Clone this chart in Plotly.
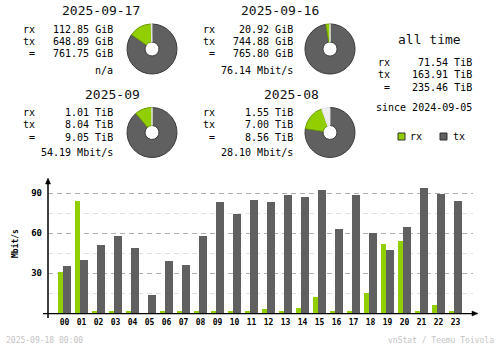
import plotly.graph_objects as go

# ---- summary data -------------------------------------------------------
periods = ["2025-09-17", "2025-09-16", "2025-09", "2025-08"]
period_rx = [112.85, 20.92, 1.01, 1.55]
period_tx = [648.89, 744.88, 8.04, 7.00]
period_total = [761.75, 765.80, 9.05, 8.56]
period_unit = ["GiB", "GiB", "TiB", "TiB"]
period_rate = ["n/a", "76.14 Mbit/s", "54.19 Mbit/s", "28.10 Mbit/s"]

alltime_rx = 71.54
alltime_tx = 163.91
alltime_total = 235.46
alltime_unit = "TiB"
since_date = "2024-09-05"

# ---- hourly data (Mbit/s) -----------------------------------------------
hours = list(range(24))
hour_labels = [f"{h:02d}" for h in hours]
rx_hour = [31.0, 83.7, 1.0, 1.0, 1.0, 0.0, 1.0, 1.0, 1.0, 1.8, 1.8, 1.8,
           2.7, 1.8, 3.5, 11.7, 1.8, 1.8, 14.7, 51.5, 53.7, 1.8, 5.7, 1.8]
tx_hour = [35.0, 40.0, 50.7, 57.5, 48.5, 13.2, 38.7, 35.7, 57.5, 83.0, 74.0, 84.5,
           83.0, 88.2, 86.7, 92.0, 62.7, 88.2, 59.7, 47.0, 64.2, 93.5, 89.0, 83.7]
y_ticks = [30, 60, 90]

footer_left = "2025-09-18 00:00"
footer_right = "vnStat / Teemu Toivola"

# ---- style ----------------------------------------------------------------
W, H = 500, 348
RX = "#92CF00"
TX = "#606060"
EMPTY = "#EDEDED"
MONO = "DejaVu Sans Mono"


def px(x):
    return x / W


def py(y):
    return 1 - y / H


fig = go.Figure()

# ---- hourly bar chart -------------------------------------------------------
PLOT_X0, PLOT_X1 = 48, 473      # plot area in pixels
PLOT_Y0, PLOT_Y1 = 181, 313
STEP = 17.0                     # pixels per hour
CENTER0 = 64.5                  # pixel centre of hour 00
xr = [(PLOT_X0 - CENTER0) / STEP, (PLOT_X1 - CENTER0) / STEP]
yr = [0, (PLOT_Y1 - PLOT_Y0) * 30 / 40]

fig.add_trace(go.Bar(x=hours, y=rx_hour, offset=-6.5 / STEP, width=5 / STEP,
                     marker=dict(color=RX, line=dict(width=0)),
                     hoverinfo="skip", showlegend=False))
fig.add_trace(go.Bar(x=hours, y=tx_hour, offset=-1.5 / STEP, width=8 / STEP,
                     marker=dict(color=TX, line=dict(width=0)),
                     hoverinfo="skip", showlegend=False))

# ---- donut charts: tx clockwise from 12 o'clock, then rx, then unused share --
pie_centres = [(152, 49), (330, 49), (152, 132.5), (330, 132.5)]
R = 25
scale_max = [max(period_total[0], period_total[1])] * 2 + \
            [max(period_total[2], period_total[3])] * 2
for i, (cx, cy) in enumerate(pie_centres):
    empty = max(scale_max[i] - period_total[i], 0)
    fig.add_trace(go.Pie(
        values=[period_tx[i], period_rx[i], empty],
        labels=["tx", "rx", ""],
        sort=False, direction="clockwise", rotation=0,
        hole=0.28,
        marker=dict(colors=[TX, RX, EMPTY],
                    line=dict(color=["#3A3A3A", "#6E9B00", "#E4E4E4"], width=1)),
        textinfo="none", hoverinfo="skip", showlegend=False,
        domain=dict(x=[px(cx - R), px(cx + R)], y=[py(cy + R), py(cy - R)]),
    ))

# ---- text blocks ---------------------------------------------------------
ann = []


def text(x, y, s, anchor="left", size=10, color="#000000", bold=False, angle=0):
    ann.append(dict(x=px(x), y=py(y), xref="paper", yref="paper", text=s,
                    showarrow=False, xanchor=anchor, yanchor="middle",
                    textangle=angle,
                    font=dict(family=MONO, size=size, color=color,
                              weight="bold" if bold else "normal")))


blocks = [
    dict(title_right=142, lab_right=37, val_right=115, title_y=10.5, rows=[29, 41, 54, 70]),
    dict(title_right=321, lab_right=217, val_right=295, title_y=10.5, rows=[29, 41, 54, 70]),
    dict(title_right=142, lab_right=37, val_right=115, title_y=94, rows=[112.5, 124.5, 137.5, 152.5]),
    dict(title_right=321, lab_right=217, val_right=295, title_y=94, rows=[112.5, 124.5, 137.5, 152.5]),
]
for i, b in enumerate(blocks):
    u = period_unit[i]
    text(b["title_right"], b["title_y"], periods[i], anchor="right", size=13, color="#111111")
    r = b["rows"]
    text(b["lab_right"], r[0], "rx", anchor="right")
    text(b["lab_right"], r[1], "tx", anchor="right")
    text(b["lab_right"], r[2], "=", anchor="right")
    text(b["val_right"], r[0], f"{period_rx[i]:.2f} {u}", anchor="right")
    text(b["val_right"], r[1], f"{period_tx[i]:.2f} {u}", anchor="right")
    text(b["val_right"], r[2], f"{period_total[i]:.2f} {u}", anchor="right")
    text(b["val_right"], r[3], period_rate[i], anchor="right")

# all time block
text(429, 40, "all time", anchor="center", size=13, color="#111111")
text(392, 62.5, "rx", anchor="right")
text(392, 75, "tx", anchor="right")
text(392, 87.5, "=", anchor="right")
text(474, 62.5, f"{alltime_rx:.2f} {alltime_unit}", anchor="right")
text(474, 75, f"{alltime_tx:.2f} {alltime_unit}", anchor="right")
text(474, 87.5, f"{alltime_total:.2f} {alltime_unit}", anchor="right")
text(474, 107.5, f"since {since_date}", anchor="right")

# legend
text(408, 136.5, "rx")
text(451, 136.5, "tx")

# axis title and footer
text(15, 244, "Mbit/s", anchor="center", size=8, bold=True, angle=-90)
text(4, 340, footer_left, size=8, color="#C4C4C4")
text(496, 340, footer_right, anchor="right", size=8, color="#C4C4C4")

# ---- shapes: legend squares, axis lines and arrows -----------------------
shapes = []
for x0, col in [(398, RX), (440, TX)]:
    shapes.append(dict(type="rect", xref="paper", yref="paper",
                       x0=px(x0), x1=px(x0 + 7), y0=py(140), y1=py(133),
                       fillcolor=col, line=dict(color="#303030", width=1)))
shapes.append(dict(type="line", xref="paper", yref="paper",
                   x0=px(43), x1=px(474), y0=py(313.6), y1=py(313.6),
                   line=dict(color="#000000", width=1.2)))
shapes.append(dict(type="line", xref="paper", yref="paper",
                   x0=px(48), x1=px(48), y0=py(318), y1=py(182),
                   line=dict(color="#000000", width=1.5)))
shapes.append(dict(type="path", xref="paper", yref="paper",
                   path=f"M {px(45.5)} {py(184)} L {px(50.5)} {py(184)} L {px(48)} {py(178)} Z",
                   fillcolor="#000000", line=dict(color="#000000", width=0.5)))
shapes.append(dict(type="path", xref="paper", yref="paper",
                   path=f"M {px(472)} {py(311)} L {px(472)} {py(316)} L {px(478)} {py(313.5)} Z",
                   fillcolor="#000000", line=dict(color="#000000", width=0.5)))

fig.update_layout(
    width=W, height=H, autosize=False,
    margin=dict(l=0, r=0, t=0, b=0),
    paper_bgcolor="#FFFFFF", plot_bgcolor="#FFFFFF",
    barmode="overlay", bargap=0,
    annotations=ann, shapes=shapes,
    xaxis=dict(domain=[px(PLOT_X0), px(PLOT_X1)], range=xr,
               tickmode="array", tickvals=hours, ticktext=hour_labels,
               showgrid=False, zeroline=False, showline=False, ticks="",
               ticklabelstandoff=3,
               tickfont=dict(family=MONO, size=8, color="#000000", weight="bold"),
               fixedrange=True),
    yaxis=dict(domain=[py(PLOT_Y1), py(PLOT_Y0)], range=yr,
               tickmode="array", tickvals=y_ticks,
               showgrid=True, gridcolor="#B0B0B0", griddash="5px,4px", gridwidth=1,
               minor=dict(tick0=15, dtick=15, showgrid=True, gridcolor="#E0E0E0",
                          griddash="5px,4px", gridwidth=1),
               zeroline=False, showline=False, ticks="",
               ticklabelstandoff=5,
               tickfont=dict(family=MONO, size=9, color="#000000", weight="bold"),
               fixedrange=True),
)

fig.write_html("out.html")
